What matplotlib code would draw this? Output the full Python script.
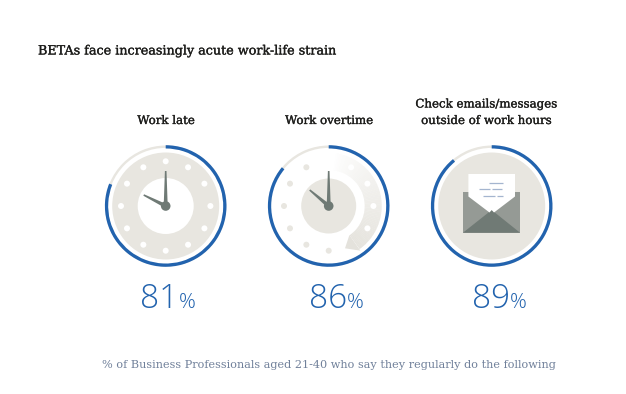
import numpy as np
import matplotlib
matplotlib.use('Agg')
import matplotlib.pyplot as plt
import matplotlib.patheffects as pe
from matplotlib.patches import Wedge, Circle, Polygon, Rectangle
from matplotlib.colors import to_rgb

labels = ['Work late', 'Work overtime', 'Check emails/messages\noutside of work hours']
percents = [81, 86, 89]
title = 'BETAs face increasingly acute work-life strain'
footer = '% of Business Professionals aged 21-40 who say they regularly do the following'

BLUE = '#2263ae'
TRACK = '#e8e6e0'
HAND = '#6f7a75'
W, H = 626, 394
SERIF = 'DejaVu Serif'
NUM = 'Open Sans'

fig = plt.figure(figsize=(W / 100, H / 100), dpi=100)
ax = fig.add_axes([0, 0, 1, 1])
ax.set_xlim(0, W)
ax.set_ylim(0, H)
ax.axis('off')

bolder = [pe.withStroke(linewidth=0.22, foreground='#1d1d1b')]


def Y(py):
    return H - py


def polar(cx, cy, r, deg):
    # deg is clockwise from 12 o'clock, cy in figure coords
    a = np.radians(deg)
    return cx + r * np.sin(a), cy + r * np.cos(a)


def hand(cx, cy, tip, base=2.0, end=0.8):
    dx, dy = tip[0] - cx, tip[1] - cy
    n = np.hypot(dx, dy)
    px, py = -dy / n, dx / n
    ax.add_patch(Polygon([(cx + px * base, cy + py * base), (tip[0] + px * end, tip[1] + py * end),
                          (tip[0] - px * end, tip[1] - py * end), (cx - px * base, cy - py * base)],
                         closed=True, fc=HAND, ec='none'))


def gauge(cx, cy, pct):
    ax.add_patch(Wedge((cx, cy), 60.5, 0, 360, width=2.4, fc=TRACK, ec='none'))
    ax.add_patch(Wedge((cx, cy), 60.8, 90 - 360 * pct / 100, 90, width=3.3, fc=BLUE, ec='none'))


def clock_late(cx, cy):
    ax.add_patch(Circle((cx, cy), 53.5, fc=TRACK, ec='none'))
    ax.add_patch(Circle((cx, cy), 28, fc='white', ec='none'))
    for d in range(0, 360, 30):
        ax.add_patch(Circle(polar(cx, cy, 44.7, d), 3, fc='white', ec='none'))
    hand(cx, cy, (cx, cy + 35))
    hand(cx, cy, (cx - 22, cy + 11))
    ax.add_patch(Circle((cx, cy), 4.8, fc=HAND, ec='none'))


def clock_overtime(cx, cy):
    # swoosh fades from white into the track colour
    start, end = np.array(to_rgb('#ffffff')), np.array(to_rgb('#e6e4de'))
    angs = np.arange(6, 144, 2)
    for i, d in enumerate(angs):
        c = start + (end - start) * (i / (len(angs) - 1)) ** 0.75
        ax.add_patch(Wedge((cx, cy), 53, 90 - d - 2.4, 90 - d, width=17, fc=c, ec='none'))
    tri = [(cx + 20.7, cy - 29), (cx + 31.7, cy - 44.7), (cx + 16.3, cy - 42.3)]
    ax.add_patch(Polygon(tri, closed=True, fc='#e4e2dc', ec='none'))
    ax.add_patch(Circle((cx, cy), 27.5, fc=TRACK, ec='none'))
    for d in range(180, 360, 30):
        ax.add_patch(Circle(polar(cx, cy, 44.7, d), 3, fc=TRACK, ec='none'))
    for d in range(30, 150, 30):
        ax.add_patch(Circle(polar(cx, cy, 44.7, d), 3, fc='white', ec='none'))
    hand(cx, cy, (cx, cy + 35))
    hand(cx, cy, (cx - 19, cy + 16))
    ax.add_patch(Circle((cx, cy), 4.8, fc=HAND, ec='none'))


def envelope(cx, cy):
    ax.add_patch(Circle((cx, cy), 53.5, fc=TRACK, ec='none'))
    ax.add_patch(Rectangle((cx - 28.7, cy - 26.7), 57, 40.7, fc='#959a95', ec='none'))
    ax.add_patch(Polygon([(cx - 28.7, cy - 26.7), (cx, cy - 4), (cx + 28.3, cy - 26.7)], closed=True, fc='#707a75', ec='none'))
    ax.add_patch(Polygon([(cx - 23.3, cy + 32), (cx + 23.3, cy + 32), (cx + 23.3, cy + 9.5), (cx + 2.3, cy - 6.5),
                          (cx, cy - 4), (cx - 2.2, cy - 6.5), (cx - 23.3, cy + 9.5)], closed=True, fc='white', ec='none'))
    for y0, x0, x1 in [(23, -3, 11.5), (17, -12.5, -2), (17, 0, 10.5), (10, -9, 3.5), (10, 5.5, 11.5)]:
        ax.plot([cx + x0, cx + x1], [cy + y0, cy + y0], color='#a4b5cf', lw=0.9, solid_capstyle='butt')


ax.text(38, Y(51), title, family=SERIF, fontsize=9.17, color='#1d1d1b', va='center', ha='left', path_effects=bolder)

centers = [165.7, 328.7, 491.7]
label_x = [166, 329, 486]
joins = [13, 18, 18]
drawers = [clock_late, clock_overtime, envelope]

for i, pct in enumerate(percents):
    cx, cy = centers[i], Y(206)
    drawers[i](cx, cy)
    gauge(cx, cy, pct)
    ax.text(label_x[i], Y(127), labels[i], family=SERIF, fontsize=8.5, color='#1d1d1b', ha='center', va='bottom',
            linespacing=1.35, path_effects=bolder)
    ax.text(cx + joins[i], Y(308), str(pct), family=NUM, weight='light', fontsize=24, color=BLUE, ha='right', va='baseline')
    ax.text(cx + joins[i], Y(308), '%', family=NUM, weight='light', fontsize=15, color=BLUE, ha='left', va='baseline')

ax.text(102, Y(365), footer, family=SERIF, fontsize=8.13, color='#70809a', va='center', ha='left')

fig.savefig('out.png', dpi=100)
